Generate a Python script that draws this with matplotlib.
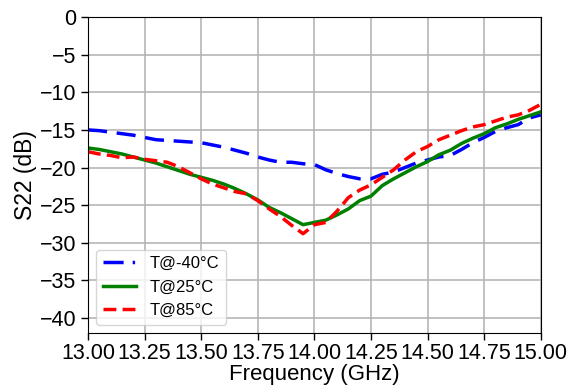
import numpy as np
import matplotlib
matplotlib.use("Agg")
from matplotlib import pyplot as plt
from matplotlib.lines import Line2D

plt.rcParams['font.family'] = ['Liberation Sans', 'DejaVu Sans']

#-----------------------------------------------------------------------------------------

freq_ghz = [13.00, 13.05, 13.10, 13.15, 13.20, 13.25, 13.30, 13.35, 13.40, 13.45,
            13.50, 13.55, 13.60, 13.65, 13.70, 13.75, 13.80, 13.85, 13.90, 13.95,
            14.00, 14.05, 14.10, 14.15, 14.20, 14.25, 14.30, 14.35, 14.40, 14.45,
            14.50, 14.55, 14.60, 14.65, 14.70, 14.75, 14.80, 14.85, 14.90, 14.95,
            15.00]

s22_m40 = [-15.0, -15.1, -15.3, -15.5, -15.7, -16.0, -16.3, -16.4, -16.5, -16.6,
           -16.7, -17.0, -17.3, -17.7, -18.1, -18.6, -19.0, -19.3, -19.3, -19.5,
           -19.6, -20.3, -20.8, -21.2, -21.5, -21.5, -20.9, -20.6, -20.0, -19.4,
           -19.0, -18.6, -18.4, -17.6, -16.7, -16.0, -15.2, -14.7, -14.3, -13.4,
           -13.0]

s22_25 = [-17.4, -17.6, -17.9, -18.2, -18.6, -19.0, -19.4, -19.9, -20.4, -20.9,
          -21.3, -21.7, -22.2, -22.8, -23.5, -24.3, -25.3, -26.0, -26.8, -27.6,
          -27.3, -27.0, -26.3, -25.5, -24.4, -23.8, -22.4, -21.5, -20.7, -19.9,
          -19.2, -18.3, -17.7, -16.8, -16.1, -15.5, -14.7, -14.2, -13.6, -13.1,
          -12.6]

s22_85 = [-17.9, -18.2, -18.4, -18.7, -18.6, -18.9, -19.1, -19.3, -19.9, -20.7,
          -21.5, -22.2, -22.7, -23.2, -23.5, -24.4, -25.5, -26.5, -27.7, -28.8,
          -27.6, -27.3, -25.8, -24.0, -23.0, -22.3, -21.3, -20.3, -19.0, -17.9,
          -17.2, -16.3, -15.7, -15.1, -14.6, -14.3, -13.8, -13.3, -13.0, -12.4,
          -11.6]

labels = ['T@-40°C', 'T@25°C', 'T@85°C']

#-----------------------------------------------------------------------------------------

fig = plt.figure(figsize=(5.79, 3.89), dpi=100)
ax = fig.add_axes([0.152, 0.144, 0.782, 0.812])

lw = 2.5
ax.plot(freq_ghz, s22_m40, color='b', lw=lw, linestyle=(0, (5.5, 2.8)))
ax.plot(freq_ghz, s22_25, color='g', lw=lw, linestyle='-')
ax.plot(freq_ghz, s22_85, color='r', lw=lw, linestyle=(0, (3.7, 1.8)))

handles = [
    Line2D([], [], color='b', lw=lw, linestyle=(0, (5.8, 2.6, 0.7, 2.6))),
    Line2D([], [], color='g', lw=lw, linestyle='-'),
    Line2D([], [], color='r', lw=lw, linestyle=(0, (3.7, 1.8))),
]

ax.set_xlim(13, 15)
ax.set_ylim(-42, 0)
ax.set_xticks(np.arange(13, 15.01, 0.25))
ax.set_xticklabels(['%.2f' % v for v in np.arange(13, 15.01, 0.25)])
ax.set_yticks(np.arange(-40, 1, 5))
ax.grid(True, color='#b0b0b0', lw=1.1)
ax.tick_params(labelsize=15.5, length=5, width=1)
ax.tick_params(axis='x', pad=2)
ax.set_xlabel('Frequency (GHz)', fontsize=16, labelpad=0)
ax.set_ylabel('S22 (dB)', fontsize=16.5, labelpad=2)

ax.legend(handles, labels, loc='lower left', fontsize=12, handlelength=2.0)

fig.savefig("out.png", dpi=100)
